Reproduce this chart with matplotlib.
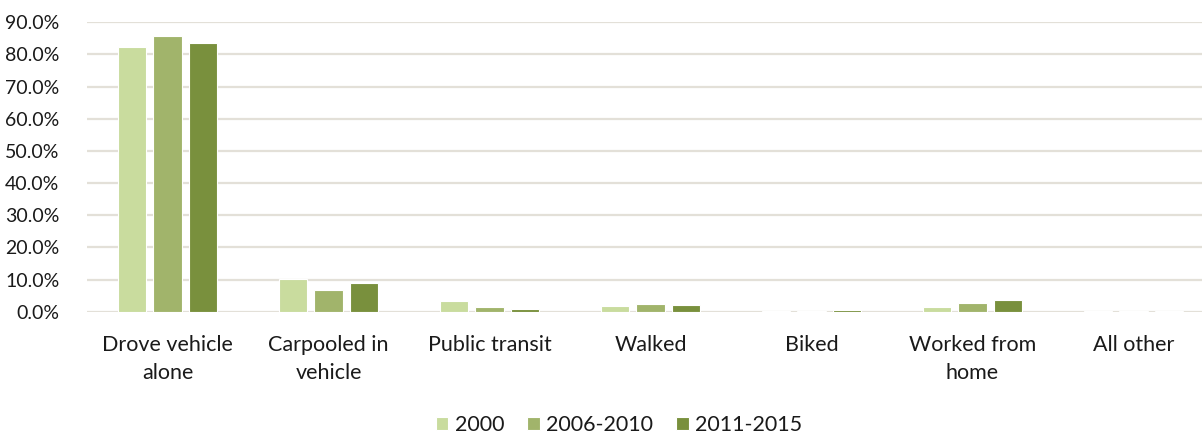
import matplotlib
matplotlib.use("Agg")
import matplotlib.pyplot as plt
import numpy as np
from matplotlib.ticker import FuncFormatter

categories = ["Drove vehicle\nalone", "Carpooled in\nvehicle", "Public transit", "Walked",
              "Biked", "Worked from\nhome", "All other"]
series_names = ["2000", "2006-2010", "2011-2015"]
v2000 = [82.4, 10.1, 3.2, 1.8, 0.1, 1.6, 0.1]
v2006 = [85.8, 6.7, 1.6, 2.4, 0.1, 2.8, 0.3]
v2011 = [83.5, 8.8, 0.8, 2.2, 0.5, 3.5, 0.1]
yticks = [0, 10, 20, 30, 40, 50, 60, 70, 80, 90]

colors = ["#c9dc9e", "#a1b46b", "#79903d"]

plt.rcParams['font.family'] = ['Lato', 'DejaVu Sans']

fig = plt.figure(figsize=(12.02, 4.36), dpi=100)
W, H = 1202, 436
left_px, right_px = 87, 1202
top_px, bot_px = 22.3, 311.7
ax = fig.add_axes([left_px / W, 1 - bot_px / H, (right_px - left_px) / W, (bot_px - top_px) / H])

x = np.arange(len(categories))
step = 0.2205
width = 0.174
for i, (vals, name) in enumerate(zip([v2000, v2006, v2011], series_names)):
    ax.bar(x + (i - 1) * step, vals, width=width, color=colors[i], edgecolor="white",
           linewidth=0.8, label=name, zorder=3)

fs = 15.5
ax.set_ylim(0, 90)
group_px = 161
ax.set_xlim(-0.5, -0.5 + (right_px - left_px) / group_px)
ax.set_yticks(yticks)
ax.yaxis.set_major_formatter(FuncFormatter(lambda v, p: f"{v:.1f}%"))
ax.grid(axis='y', color="#e3e0d8", linewidth=1.6, zorder=0)
ax.set_axisbelow(True)
for s in ax.spines.values():
    s.set_visible(False)
ax.tick_params(axis='both', length=0, colors="#1a1a1a")
ax.tick_params(axis='x', labelsize=fs, pad=17)
ax.tick_params(axis='y', labelsize=14, pad=20)
ax.set_xticks(x)
ax.set_xticklabels(categories, linespacing=1.45)

handles, labels = ax.get_legend_handles_labels()
fig.legend(handles, labels, loc='center', bbox_to_anchor=(619 / W, 1 - 425 / H), ncol=3,
           frameon=False, fontsize=fs, handlelength=0.6, handleheight=0.6,
           handletextpad=0.3, columnspacing=1.05, labelcolor="#1a1a1a")

fig.savefig("out.png", dpi=100)
